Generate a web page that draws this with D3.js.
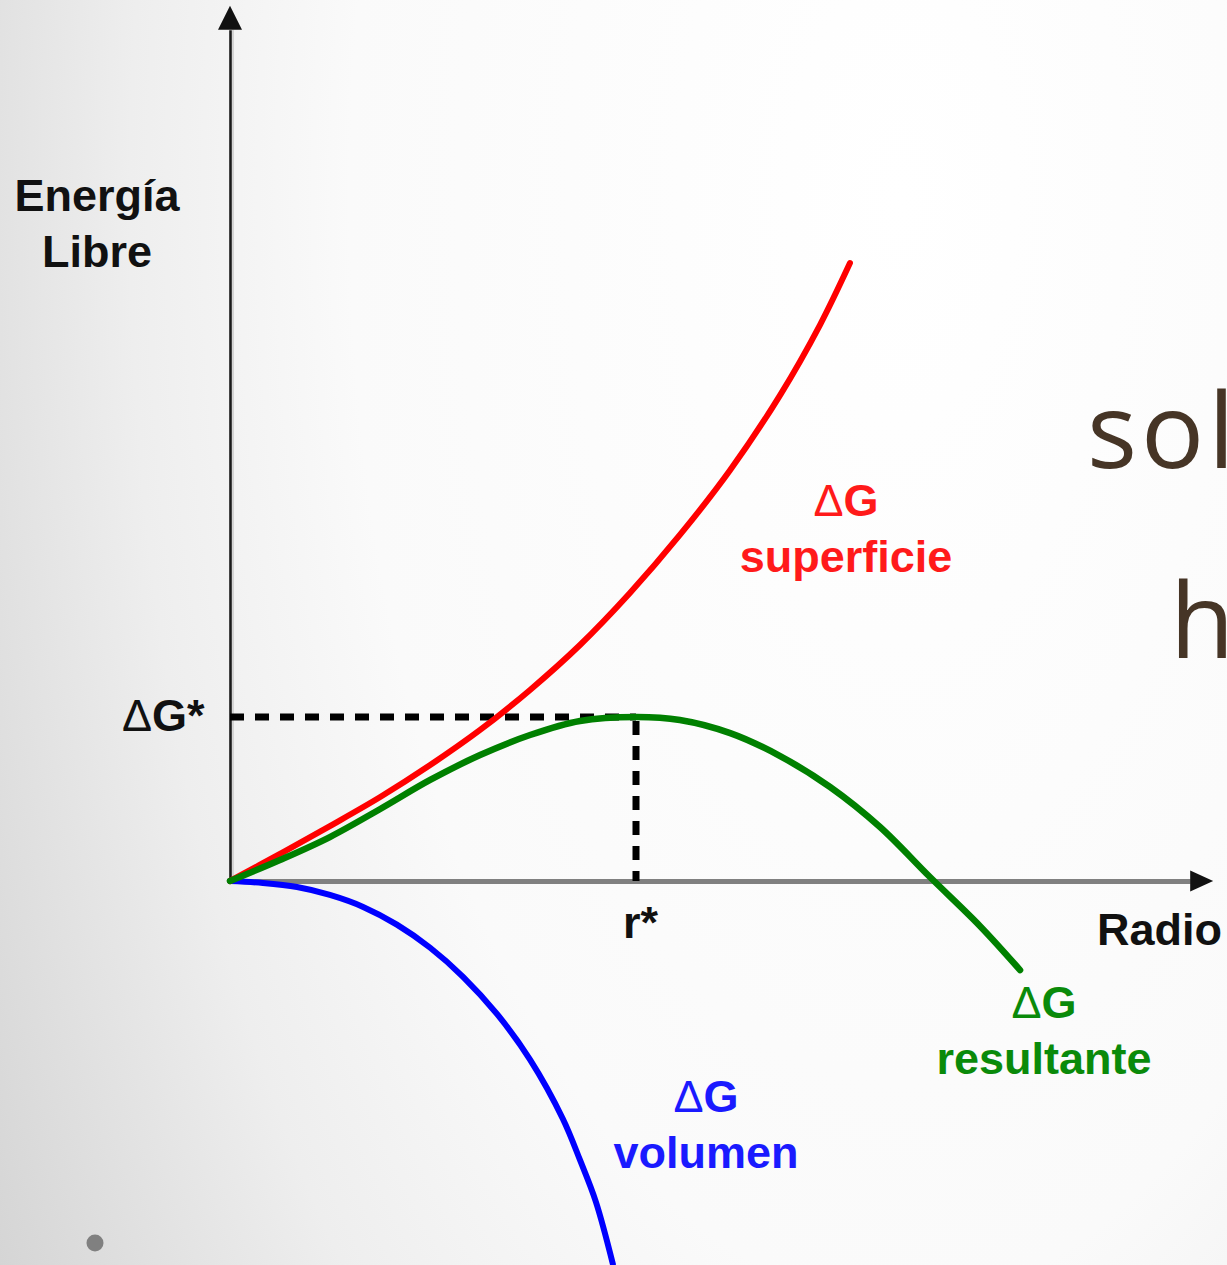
<!DOCTYPE html>
<html>
<head>
<meta charset="utf-8">
<script src="https://cdn.jsdelivr.net/npm/d3@7"></script>
<style>
  html, body { margin: 0; padding: 0; overflow: hidden; }
  svg { display: block; }
</style>
</head>
<body>
<script>
// Free-energy curves for nucleation of a spherical nucleus (arbitrary units).
// Radius r, with r* = 10; energy with ΔG* = 10.
const surfaceR = [0, 1.23, 2.46, 3.70, 4.93, 6.16, 7.39, 8.62, 9.85, 11.08, 12.32, 13.55, 14.53, 15.27];
const surfaceG = [0, 1.65, 3.35, 5.12, 7.07, 9.21, 11.65, 14.39, 17.56, 21.10, 25.06, 29.63, 33.90, 37.68];

const volumeR = [0, 0.81, 1.65, 2.46, 3.28, 4.11, 4.93, 5.74, 6.58, 7.39, 8.20, 8.62, 9.01, 9.43];
const volumeG = [0, -0.12, -0.37, -0.85, -1.58, -2.66, -4.07, -5.84, -8.12, -10.89, -14.51, -17.01, -19.55, -23.35];

const totalR = [0, 1.23, 2.46, 3.70, 4.93, 6.16, 7.39, 8.62, 10, 11.08, 12.32, 13.55, 14.78, 16.01, 17.24, 18.47, 19.46];
const totalG = [0, 1.28, 2.68, 4.39, 6.16, 7.68, 8.90, 9.76, 10, 9.82, 9.02, 7.62, 5.73, 3.29, 0.24, -2.74, -5.43];

const rStar = 10;
const gStar = 10;

const rAxisEnd = 23.65;   // radius axis extent
const gAxisEnd = 51.9;    // energy axis extent

const yAxisTitle = ["Energía", "Libre"];
const xAxisTitle = "Radio";
const rStarLabel = "r*";
const gStarLabel = ["Δ", "G*"];
const seriesLabels = {
  surface: ["ΔG", "superficie"],
  total: ["ΔG", "resultante"],
  volume: ["ΔG", "volumen"]
};
const sideWords = ["sol", "h"];

const W = 1227, H = 1265;

const svg = d3.select("body").append("svg")
  .attr("width", W).attr("height", H);

// Slide background: soft elliptical shading, darker toward the left edge
const defs = svg.append("defs");
const grad = defs.append("radialGradient")
  .attr("id", "bg").attr("gradientUnits", "userSpaceOnUse")
  .attr("cx", 0).attr("cy", 0).attr("r", 1)
  .attr("gradientTransform", "translate(900,200) scale(1100,2200)");
[[0, "#ffffff"], [0.5, "#fafafa"], [0.7, "#eeeeee"], [0.84, "#e0e0e0"], [0.96, "#d4d4d4"]]
  .forEach(([o, c]) => grad.append("stop").attr("offset", o).attr("stop-color", c));
svg.append("rect").attr("width", W).attr("height", H).attr("fill", "url(#bg)");

const x = d3.scaleLinear().domain([0, rStar]).range([230, 636]);
const y = d3.scaleLinear().domain([0, gStar]).range([881, 717]);

const FONT = "'Liberation Sans', Arial, sans-serif";

// Energy axis (vertical) with arrow
const yAxisScale = y.copy().domain([0, gAxisEnd]).range([y(0), y(gAxisEnd)]);
svg.append("line")
  .attr("x1", x(0) + 3).attr("x2", x(0) + 3)
  .attr("y1", y(0)).attr("y2", yAxisScale(gAxisEnd))
  .attr("stroke", "#d4d4d4").attr("stroke-width", 2);
const gy = svg.append("g")
  .attr("transform", `translate(${x(0)},0)`)
  .call(d3.axisLeft(yAxisScale).tickValues([]).tickSizeOuter(0));
gy.select(".domain").attr("stroke", "#1a1a1a").attr("stroke-width", 2.6);
{
  const tx = x(0), by = yAxisScale(gAxisEnd);
  svg.append("path")
    .attr("d", `M${tx - 12},${by} L${tx + 12},${by} L${tx},${by - 24} Z`)
    .attr("fill", "#111");
}

// Radius axis (horizontal) with arrow
const xAxisScale = x.copy().domain([0, rAxisEnd]).range([x(0), x(rAxisEnd)]);
const gx = svg.append("g")
  .attr("transform", `translate(0,${y(0)})`)
  .call(d3.axisBottom(xAxisScale).tickValues([]).tickSizeOuter(0));
gx.select(".domain").attr("stroke", "#808080").attr("stroke-width", 5);
{
  const bx = xAxisScale(rAxisEnd), cy = y(0);
  svg.append("path")
    .attr("d", `M${bx},${cy - 10.5} L${bx},${cy + 10.5} L${bx + 23},${cy} Z`)
    .attr("fill", "#111");
}

// Guide lines to the critical point
svg.append("line")
  .attr("x1", x(0)).attr("x2", x(rStar))
  .attr("y1", y(gStar)).attr("y2", y(gStar))
  .attr("stroke", "#000").attr("stroke-width", 7)
  .attr("stroke-dasharray", "14 11");
svg.append("line")
  .attr("x1", x(rStar)).attr("x2", x(rStar))
  .attr("y1", y(gStar) + 4).attr("y2", y(0))
  .attr("stroke", "#000").attr("stroke-width", 7)
  .attr("stroke-dasharray", "14 11");

// Curves
const line = d3.line()
  .x(d => x(d[0])).y(d => y(d[1]))
  .curve(d3.curveCatmullRom.alpha(0.5));

const series = [
  { r: volumeR, g: volumeG, color: "#0000ff", w: 6 },
  { r: surfaceR, g: surfaceG, color: "#ff0000", w: 6 },
  { r: totalR, g: totalG, color: "#008000", w: 6.5 }
];
series.forEach(s => {
  svg.append("path")
    .datum(d3.zip(s.r, s.g))
    .attr("d", line)
    .attr("fill", "none")
    .attr("stroke", s.color)
    .attr("stroke-width", s.w)
    .attr("stroke-linecap", "round");
});

// Two-line series label: thin Δ, bold G, bold word below
function seriesLabel(lines, cx, baseline, color) {
  const t1 = svg.append("text")
    .attr("x", cx).attr("y", baseline)
    .attr("text-anchor", "middle")
    .attr("font-family", FONT).attr("font-size", 45)
    .attr("fill", color);
  t1.append("tspan").attr("font-weight", "normal").text(lines[0].slice(0, 1));
  t1.append("tspan").attr("font-weight", "bold").text(lines[0].slice(1));
  svg.append("text")
    .attr("x", cx).attr("y", baseline + 56)
    .attr("text-anchor", "middle")
    .attr("font-family", FONT).attr("font-size", 45).attr("font-weight", "bold")
    .attr("fill", color)
    .text(lines[1]);
}
seriesLabel(seriesLabels.surface, 846, 516, "#ff1a1a");
seriesLabel(seriesLabels.total, 1044, 1018, "#0a8a0a");
seriesLabel(seriesLabels.volume, 706, 1112, "#1a1aff");

// Axis titles
yAxisTitle.forEach((s, i) => {
  svg.append("text")
    .attr("x", 97).attr("y", 211 + i * 56)
    .attr("text-anchor", "middle")
    .attr("font-family", FONT).attr("font-size", 45).attr("font-weight", "bold")
    .attr("fill", "#111")
    .text(s);
});
svg.append("text")
  .attr("x", 1097).attr("y", 945)
  .attr("font-family", FONT).attr("font-size", 45).attr("font-weight", "bold")
  .attr("fill", "#111")
  .text(xAxisTitle);

// Critical values on the axes
svg.append("text")
  .attr("x", x(rStar) - 13).attr("y", 938)
  .attr("font-family", FONT).attr("font-size", 45).attr("font-weight", "bold")
  .attr("fill", "#111")
  .text(rStarLabel);
{
  const t = svg.append("text")
    .attr("x", x(0) - 108).attr("y", y(gStar) + 14)
    .attr("font-family", FONT).attr("font-size", 45)
    .attr("fill", "#111");
  t.append("tspan").attr("font-weight", "normal").text(gStarLabel[0]);
  t.append("tspan").attr("font-weight", "bold").text(gStarLabel[1]);
}

// Slide text running off the right edge
svg.append("text")
  .attr("x", 1087).attr("y", 468)
  .attr("font-family", "'Open Sans', sans-serif").attr("font-size", 105)
  .attr("letter-spacing", 4)
  .attr("fill", "#463526")
  .text(sideWords[0]);
svg.append("text")
  .attr("x", 1170).attr("y", 658)
  .attr("font-family", "'Open Sans', sans-serif").attr("font-size", 105)
  .attr("fill", "#463526")
  .text(sideWords[1]);

// Bullet marker
svg.append("circle")
  .attr("cx", 95).attr("cy", 1243).attr("r", 8.5)
  .attr("fill", "#808080");
</script>
</body>
</html>
